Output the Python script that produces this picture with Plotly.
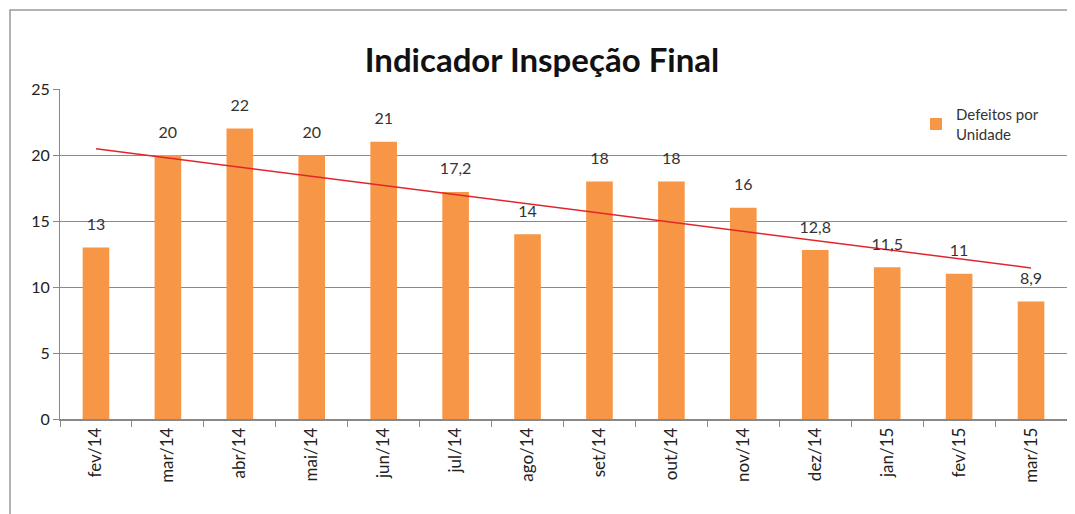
import numpy as np
import plotly.graph_objects as go

categories = ["fev/14", "mar/14", "abr/14", "mai/14", "jun/14", "jul/14", "ago/14",
              "set/14", "out/14", "nov/14", "dez/14", "jan/15", "fev/15", "mar/15"]
defeitos = [13, 20, 22, 20, 21, 17.2, 14, 18, 18, 16, 12.8, 11.5, 11, 8.9]
y_ticks = [0, 5, 10, 15, 20, 25]

labels = [("%g" % v).replace(".", ",") for v in defeitos]

# linear trend line (Excel-style)
idx = np.arange(len(defeitos))
slope, intercept = np.polyfit(idx, defeitos, 1)
trend = slope * idx + intercept

FONT = "Lato"
fig = go.Figure()
fig.add_trace(go.Bar(
    x=categories, y=defeitos, name="Defeitos por<br>Unidade",
    marker=dict(color="#F79646", line=dict(width=0)),
    width=0.37, hoverinfo="x+y",
))
fig.add_trace(go.Scatter(
    x=categories, y=trend, mode="lines", showlegend=False,
    line=dict(color="#E0262A", width=1.5), hoverinfo="skip",
))
fig.add_trace(go.Scatter(
    x=categories, y=defeitos, mode="markers+text", showlegend=False,
    text=labels, textposition="top center", cliponaxis=False,
    marker=dict(size=20, opacity=0), hoverinfo="skip",
    textfont=dict(family=FONT, size=16, color="#333333"),
))

# page is offset by 8px body margin; layout designed in figure coordinates
OFF = 8
L, R, T, B = 60 - OFF, 16, 89 - OFF, 103
W, H = 1075, 514
pw, ph = W - L - R, H - T - B

def px_x(x):
    return (x - OFF - L) / pw

def px_y(y):
    return (H - B - (y - OFF)) / ph

fig.update_layout(
    width=W, height=H,
    margin=dict(l=L, r=R, t=T, b=B),
    paper_bgcolor="white", plot_bgcolor="white",
    title=dict(text="<b>Indicador Inspeção Final</b>", x=(542 - OFF) / W, xanchor="center",
               y=1 - (60 - OFF) / H, yanchor="middle",
               font=dict(family=FONT, size=33, color="#111111")),
    font=dict(family=FONT, color="#333333"),
    showlegend=True,
    legend=dict(x=px_x(916), y=px_y(98), xanchor="left", yanchor="top",
                bgcolor="rgba(0,0,0,0)", font=dict(family=FONT, size=15, color="#333333")),
    xaxis=dict(
        type="category", range=[-0.5, len(categories) - 0.5], autorange=False,
        tickangle=-90, tickson="boundaries", ticks="outside",
        ticklen=6, tickcolor="#888888", showline=True, linecolor="#888888",
        linewidth=1.5, showgrid=False,
        tickfont=dict(family=FONT, size=17, color="#222222"),
    ),
    yaxis=dict(
        range=[0, 25], tickvals=y_ticks, ticks="outside", ticklen=6,
        tickcolor="#888888", showline=True, linecolor="#888888", linewidth=1,
        showgrid=True, gridcolor="#8a8a8a", gridwidth=1, zeroline=False,
        tickfont=dict(family=FONT, size=16, color="#222222"),
    ),
    shapes=[dict(type="rect", xref="paper", yref="paper",
                 x0=px_x(10), x1=px_x(1068), y0=px_y(540), y1=px_y(10),
                 line=dict(color="#9a9a9a", width=1.5), fillcolor="rgba(0,0,0,0)",
                 layer="below")],
)

fig.write_html("out.html")
